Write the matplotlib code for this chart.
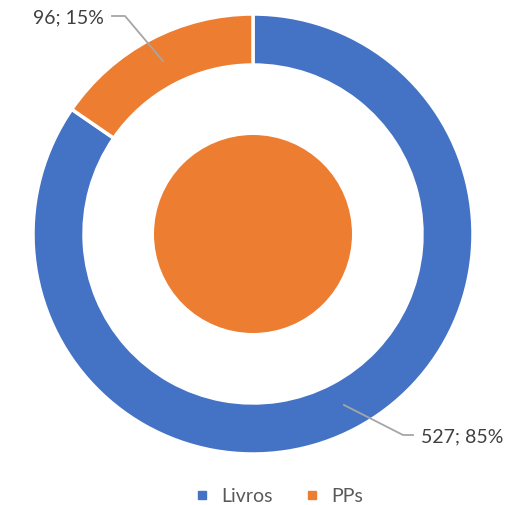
import matplotlib.pyplot as plt
from matplotlib.patches import Circle
from matplotlib.lines import Line2D

labels = ["Livros", "PPs"]
values = [527, 96]
colors = ["#4472C4", "#ED7D31"]
inner_value = [96]

H = 506
fig = plt.figure(figsize=(5.18, 5.06), dpi=100)
ax = fig.add_axes([0, 0, 1, 1])

wedges, _ = ax.pie(values, colors=colors, startangle=90, counterclock=False,
                   radius=220, center=(253, H - 235),
                   wedgeprops=dict(width=51, edgecolor="white", linewidth=2.5))
ax.add_patch(Circle((253, H - 235), 99, color=colors[1], lw=0))

total = sum(values)
txt = ["%d; %d%%" % (v, round(100.0 * v / total)) for v in values]

# leader lines
ax.plot([344, 403, 413], [H - 406, H - 436, H - 436], color="#A6A6A6", lw=1.3)
ax.plot([163, 125, 112], [H - 62, H - 17, H - 17], color="#A6A6A6", lw=1.3)
ax.text(421, H - 437, txt[0], fontsize=14, color="#404040", family="Lato",
        ha="left", va="center")
ax.text(104, H - 18, txt[1], fontsize=14, color="#404040", family="Lato",
        ha="right", va="center")

handles = [Line2D([], [], marker="s", ls="", color=c, markersize=6) for c in colors]
leg = ax.legend(handles, labels, loc="center", bbox_to_anchor=(273 / 518, 1 - 497 / H),
                ncol=2, frameon=False, handletextpad=0.0, columnspacing=1.0,
                prop=dict(family="Lato", size=14))
for t in leg.get_texts():
    t.set_color("#595959")

ax.set_xlim(0, 518)
ax.set_ylim(0, H)
ax.set_aspect("equal")
ax.axis("off")
fig.savefig("out.png", dpi=100)
